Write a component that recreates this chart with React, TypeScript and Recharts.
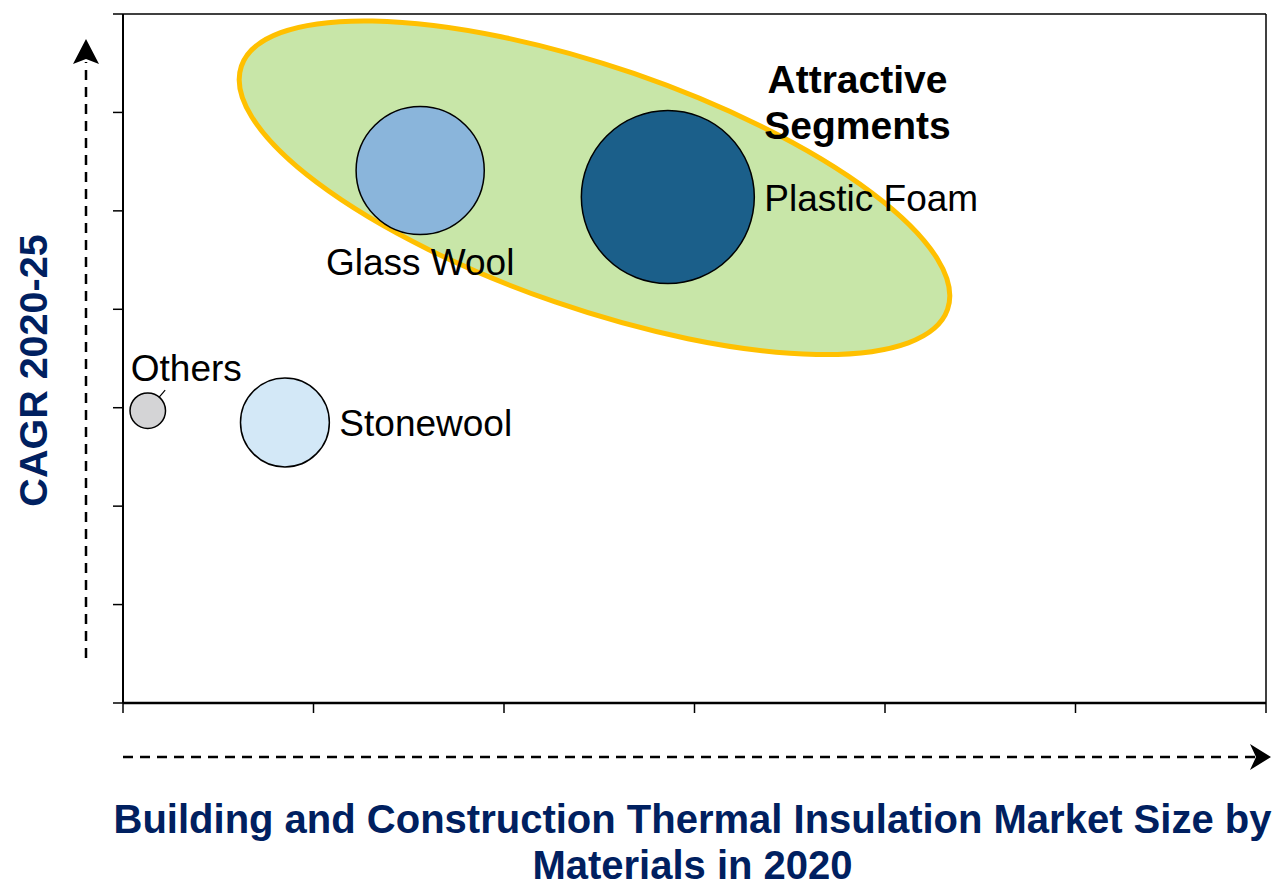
import React from "react";
import {
  ScatterChart,
  Scatter,
  XAxis,
  YAxis,
  ZAxis,
  Cell,
  ReferenceArea,
  ReferenceLine,
} from "recharts";

// Insulation materials: market size (x), CAGR 2020-25 (y), bubble weight (z)
const materials = ["Plastic Foam", "Glass Wool", "Stonewool", "Others"];
const marketSize = [2.86, 1.56, 0.85, 0.13];
const cagr = [5.14, 5.41, 2.85, 2.97];
const bubbleWeight = [23.5, 12.9, 6.2, 0.99];

const xTicks = [0, 1, 2, 3, 4, 5, 6];
const yTicks = [0, 1, 2, 3, 4, 5, 6, 7];

// highlighted "attractive" zone, in data units
const attractiveZone = { x1: 0.61, x2: 4.34, y1: 3.54, y2: 6.93 };

const bubbleColors = ["#1B5F8A", "#8AB5DB", "#D3E8F7", "#D4D4D6"];
const labelSide: Record<string, "right" | "below" | "above"> = {
  "Plastic Foam": "right",
  "Glass Wool": "below",
  Stonewool: "right",
  Others: "above",
};

const FONT = "Arial, 'Liberation Sans', sans-serif";
const NAVY = "#002060";
const LABEL_SIZE = 37;

const data = materials.map((name, i) => ({
  name,
  x: marketSize[i],
  y: cagr[i],
  z: bubbleWeight[i],
}));

// tick marks only, no tick text
const NoTickText = () => <g />;

const Bubble = (props: any) => {
  const { cx, cy, payload, fill } = props;
  const r = props.width ? props.width / 2 : Math.sqrt(props.size / Math.PI);
  const side = labelSide[payload.name];
  let label = null;
  if (side === "right") {
    label = (
      <text x={cx + r + 10} y={cy + 13.5} fontSize={LABEL_SIZE} fontFamily={FONT} fill="#000">
        {payload.name}
      </text>
    );
  } else if (side === "below") {
    label = (
      <text x={cx} y={cy + r + 40} textAnchor="middle" fontSize={LABEL_SIZE} fontFamily={FONT} fill="#000">
        {payload.name}
      </text>
    );
  } else {
    const a = (-50 * Math.PI) / 180;
    const ex = cx + r * Math.cos(a);
    const ey = cy + r * Math.sin(a);
    label = (
      <g>
        <line x1={ex} y1={ey} x2={ex + 6} y2={ey - 7} stroke="#000" strokeWidth={1.2} />
        <text x={cx - 17} y={cy - r - 11.5} fontSize={LABEL_SIZE} fontFamily={FONT} fill="#000">
          {payload.name}
        </text>
      </g>
    );
  }
  return (
    <g>
      <circle cx={cx} cy={cy} r={r} fill={fill} stroke="#000" strokeWidth={1.5} />
      {label}
    </g>
  );
};

// tilted ellipse inscribed in the reference area box
const ZoneEllipse = (props: any) => {
  const { x, y, width, height } = props;
  const W = width / 2;
  const H = height / 2;
  const tilt = 19;
  const t = (tilt * Math.PI) / 180;
  const c2 = Math.cos(t) ** 2;
  const s2 = Math.sin(t) ** 2;
  const cos2 = Math.cos(2 * t);
  const rx = Math.sqrt((W * W * c2 - H * H * s2) / cos2);
  const ry = Math.sqrt((H * H * c2 - W * W * s2) / cos2);
  const ecx = x + W;
  const ecy = y + H;
  return (
    <g>
      <ellipse
        cx={ecx}
        cy={ecy}
        rx={rx}
        ry={ry}
        transform={`rotate(${tilt} ${ecx} ${ecy})`}
        fill="#C8E6A8"
        stroke="#FFC000"
        strokeWidth={5}
      />
      <text
        x={ecx + 263}
        textAnchor="middle"
        fontSize={39}
        fontWeight="bold"
        fontFamily={FONT}
        fill="#000"
      >
        <tspan x={ecx + 263} y={y + 72}>Attractive</tspan>
        <tspan x={ecx + 263} y={y + 118}>Segments</tspan>
      </text>
    </g>
  );
};

const XTitle = (props: any) => {
  const { x, y, width } = props.viewBox;
  const mid = x + width / 2 - 2;
  return (
    <text textAnchor="middle" fontSize={40} fontWeight="bold" fontFamily={FONT} fill={NAVY}>
      <tspan x={mid} y={y + 130}>
        Building and Construction Thermal Insulation Market Size by
      </tspan>
      <tspan x={mid} y={y + 176}>
        Materials in 2020
      </tspan>
    </text>
  );
};

const YTitle = (props: any) => {
  const { y, height } = props.viewBox;
  const mid = y + height / 2 + 12;
  return (
    <text
      x={47}
      y={mid}
      transform={`rotate(-90 47 ${mid})`}
      textAnchor="middle"
      fontSize={39.5}
      fontWeight="bold"
      fontFamily={FONT}
      fill={NAVY}
    >
      CAGR 2020-25
    </text>
  );
};

export default function App() {
  return (
    <div style={{ position: "absolute", left: 0, top: 0, width: 1280, height: 889, background: "#fff" }}>
      <ScatterChart width={1280} height={889} margin={{ top: 14, right: 14, left: 113, bottom: 176 }}>
        <XAxis
          type="number"
          dataKey="x"
          domain={[0, 6]}
          ticks={xTicks}
          tick={NoTickText}
          tickSize={10}
          height={10}
          axisLine={{ stroke: "#000", strokeWidth: 2.5 }}
          tickLine={{ stroke: "#000", strokeWidth: 1.5 }}
          label={{ content: XTitle }}
        />
        <YAxis
          type="number"
          dataKey="y"
          domain={[0, 7]}
          ticks={yTicks}
          tick={NoTickText}
          tickSize={10}
          width={10}
          axisLine={{ stroke: "#000", strokeWidth: 2 }}
          tickLine={{ stroke: "#000", strokeWidth: 1.5 }}
          label={{ content: YTitle }}
        />
        <ZAxis type="number" dataKey="z" domain={[0, 25]} range={[0, 25000]} />
        <ReferenceLine y={7} stroke="#000" strokeWidth={1.5} />
        <ReferenceLine x={6} stroke="#000" strokeWidth={1.5} />
        <ReferenceArea
          x1={attractiveZone.x1}
          x2={attractiveZone.x2}
          y1={attractiveZone.y1}
          y2={attractiveZone.y2}
          shape={ZoneEllipse}
        />
        <Scatter data={data} shape={Bubble} isAnimationActive={false}>
          {data.map((d, i) => (
            <Cell key={d.name} fill={bubbleColors[i]} />
          ))}
        </Scatter>
      </ScatterChart>
      {/* direction arrows along both axes */}
      <svg
        width={1280}
        height={889}
        style={{ position: "absolute", left: 0, top: 0, pointerEvents: "none" }}
      >
        <line x1={86} y1={658} x2={86} y2={62} stroke="#000" strokeWidth={2.5} strokeDasharray="10 7" />
        <polygon points="86,39 99,64 86,59 73,64" fill="#000" />
        <line x1={123} y1={757} x2={1255} y2={757} stroke="#000" strokeWidth={2.5} strokeDasharray="10 7" />
        <polygon points="1271,757 1250,770 1256,757 1250,744" fill="#000" />
      </svg>
    </div>
  );
}
